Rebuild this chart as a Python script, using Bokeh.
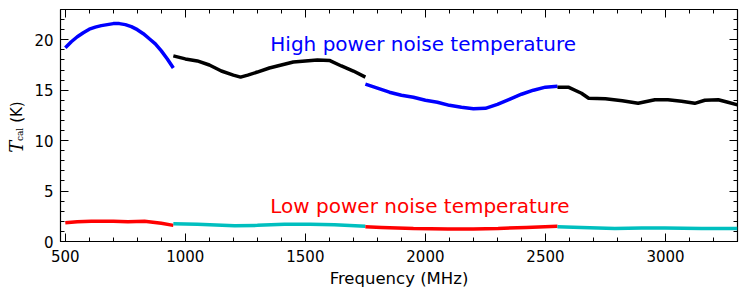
import math
from bokeh.plotting import figure
from bokeh.layouts import row
from bokeh.models import LinearAxis, SingleIntervalTicker, Label, Range1d
from bokeh.embed import file_html
from bokeh.resources import INLINE

# High power noise temperature segments (MHz, K)
hp1_f = [500, 525, 550, 575, 600, 625, 650, 675, 700, 725, 750, 775, 800, 825, 850, 875, 900, 925, 950]
hp1_t = [19.2, 19.8, 20.3, 20.7, 21.05, 21.25, 21.4, 21.5, 21.6, 21.6, 21.5, 21.3, 21.0, 20.6, 20.1, 19.6, 18.9, 18.1, 17.2]
hp2_f = [950, 1000, 1050, 1100, 1150, 1200, 1230, 1260, 1300, 1350, 1400, 1450, 1500, 1550, 1600, 1650, 1700, 1750]
hp2_t = [18.4, 18.1, 17.9, 17.5, 16.9, 16.5, 16.3, 16.5, 16.8, 17.2, 17.5, 17.8, 17.9, 18.0, 17.95, 17.4, 16.9, 16.3]
hp3_f = [1750, 1800, 1850, 1900, 1950, 2000, 2050, 2100, 2150, 2200, 2250, 2300, 2350, 2400, 2450, 2500, 2550]
hp3_t = [15.6, 15.2, 14.8, 14.5, 14.3, 14.0, 13.8, 13.5, 13.3, 13.15, 13.2, 13.6, 14.1, 14.6, 15.0, 15.3, 15.4]
hp4_f = [2550, 2595, 2650, 2680, 2750, 2820, 2886, 2956, 3010, 3067, 3122, 3164, 3220, 3260, 3300]
hp4_t = [15.3, 15.3, 14.7, 14.2, 14.15, 13.95, 13.7, 14.05, 14.05, 13.9, 13.7, 14.0, 14.05, 13.8, 13.55]

# Low power noise temperature segments (MHz, K)
lp1_f = [500, 550, 608, 700, 761, 830, 900, 950]
lp1_t = [1.85, 1.95, 2.0, 2.0, 1.95, 2.0, 1.8, 1.6]
lp2_f = [950, 1050, 1205, 1300, 1413, 1520, 1621, 1750]
lp2_t = [1.75, 1.7, 1.55, 1.6, 1.7, 1.7, 1.65, 1.5]
lp3_f = [1750, 1817, 1950, 2094, 2200, 2303, 2420, 2550]
lp3_t = [1.45, 1.4, 1.3, 1.25, 1.25, 1.3, 1.4, 1.5]
lp4_f = [2550, 2650, 2789, 2900, 2997, 3150, 3300]
lp4_t = [1.45, 1.4, 1.3, 1.35, 1.35, 1.3, 1.3]

x_ticks_interval = 500
y_ticks_interval = 5

BLUE = "#0000ff"
BLACK = "#000000"
RED = "#ff0000"
CYAN = "#00bfbf"

LABEL_W = 30
TOTAL_H = 288

y_rng = Range1d(0, 23)

p = figure(frame_width=677, frame_height=232, output_backend="svg", toolbar_location=None,
           x_range=Range1d(480, 3300), y_range=y_rng,
           min_border_left=60 - LABEL_W, min_border_top=9, min_border_right=2, min_border_bottom=47,
           background_fill_color="white", border_fill_color="white")
p.grid.visible = False
p.outline_line_color = "black"
p.outline_line_width = 1.2

lw = 3.5
for f, t, c in [(hp1_f, hp1_t, BLUE), (hp2_f, hp2_t, BLACK), (hp3_f, hp3_t, BLUE), (hp4_f, hp4_t, BLACK),
                (lp1_f, lp1_t, RED), (lp2_f, lp2_t, CYAN), (lp3_f, lp3_t, RED), (lp4_f, lp4_t, CYAN)]:
    p.line(f, t, line_color=c, line_width=lw)

def style_axis(ax, labels=True):
    ax.axis_line_color = None
    ax.major_tick_in = 8
    ax.major_tick_out = 0
    ax.minor_tick_in = 4
    ax.minor_tick_out = 0
    ax.major_tick_line_color = "black"
    ax.minor_tick_line_color = "black"
    ax.major_label_text_font = "DejaVu Sans"
    ax.major_label_text_color = "black"
    if labels:
        ax.major_label_text_font_size = "15px"
    else:
        ax.major_label_text_font_size = "0px"
        ax.major_label_text_color = None
        ax.major_label_standoff = 0

xax = p.xaxis[0]
xax.ticker = SingleIntervalTicker(interval=x_ticks_interval, num_minor_ticks=5)
style_axis(xax)
xax.major_label_standoff = 8
xax.axis_label = "Frequency (MHz)"
xax.axis_label_text_font = "DejaVu Sans"
xax.axis_label_text_font_style = "normal"
xax.axis_label_text_font_size = "16.5px"
xax.axis_label_text_color = "black"
xax.axis_label_standoff = 4

yax = p.yaxis[0]
yax.ticker = SingleIntervalTicker(interval=y_ticks_interval, num_minor_ticks=5)
style_axis(yax)
yax.major_label_standoff = 7

top = LinearAxis(ticker=SingleIntervalTicker(interval=x_ticks_interval, num_minor_ticks=5))
style_axis(top, labels=False)
p.add_layout(top, "above")
right = LinearAxis(ticker=SingleIntervalTicker(interval=y_ticks_interval, num_minor_ticks=5))
style_axis(right, labels=False)
p.add_layout(right, "right")

p.add_layout(Label(x=1354, y=19.55, text="High power noise temperature", text_align="left",
                   text_baseline="alphabetic", text_font="DejaVu Sans", text_font_size="20px", text_color=BLUE))
p.add_layout(Label(x=1354, y=3.5, text="Low power noise temperature", text_align="left",
                   text_baseline="alphabetic", text_font="DejaVu Sans", text_font_size="20px", text_color=RED))

# Narrow panel on the left holding the y-axis title: T_cal (K); shares the y range
yl = figure(width=LABEL_W, height=TOTAL_H, output_backend="svg", toolbar_location=None,
            x_range=Range1d(0, LABEL_W), y_range=y_rng,
            min_border=0, background_fill_color="white", border_fill_color="white")
yl.axis.visible = False
yl.grid.visible = False
yl.outline_line_color = None
yl.add_layout(Label(x=16, y=9.27, text="T", angle=math.pi / 2,
                    text_align="center", text_baseline="middle", text_font="DejaVu Serif",
                    text_font_style="italic", text_font_size="18px", text_color="black"))
yl.add_layout(Label(x=19, y=10.51, text="cal", angle=math.pi / 2,
                    text_align="center", text_baseline="middle", text_font="DejaVu Serif",
                    text_font_size="9px", text_color="black"))
yl.add_layout(Label(x=16, y=12.74, text="(K)", angle=math.pi / 2,
                    text_align="center", text_baseline="middle", text_font="DejaVu Sans",
                    text_font_size="15px", text_color="black"))

layout = row(yl, p, spacing=0)
open("out.html", "w").write(file_html(layout, INLINE))
